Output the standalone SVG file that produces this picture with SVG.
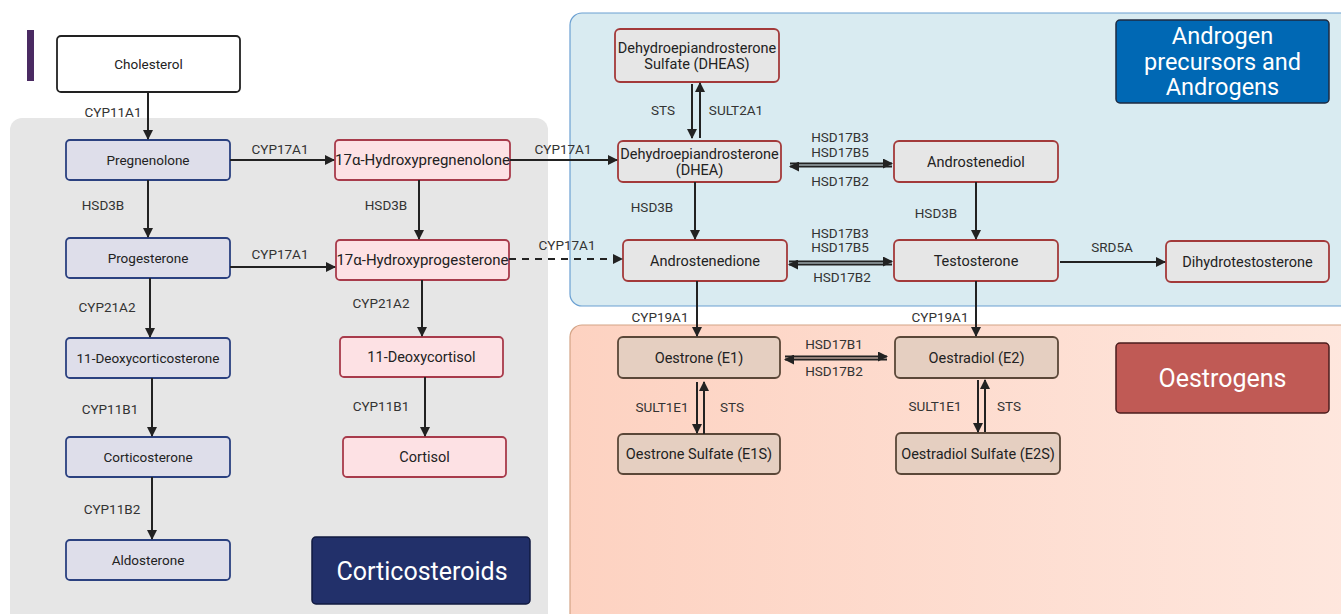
<svg xmlns="http://www.w3.org/2000/svg" width="1341" height="614" viewBox="0 0 1341 614">
<defs>
<marker id="ah" viewBox="0 0 10 10" refX="9" refY="5" markerWidth="10" markerHeight="10" markerUnits="userSpaceOnUse" orient="auto-start-reverse"><path d="M0,0 L10,5 L0,10 z" fill="#222"/></marker>
<linearGradient id="og" x1="0" y1="0" x2="1" y2="0"><stop offset="0" stop-color="#fdd2c1"/><stop offset="1" stop-color="#fee7de"/></linearGradient>
<style>
text{font-family:Roboto,"Liberation Sans",sans-serif;fill:#222}
.n{font-size:14.5px;text-anchor:middle;dominant-baseline:central}
.s{font-size:13.5px}
.b{font-size:15px}
.l{font-size:13.5px;text-anchor:middle;dominant-baseline:central;fill:#333}
.t{font-size:25px;text-anchor:middle;dominant-baseline:central;fill:#fff}
.t2{font-size:23.5px}
.blue rect{fill:#dedeea;stroke:#2b4180;stroke-width:1.8}
.red rect{fill:#fde1e4;stroke:#a83b4b;stroke-width:1.8}
.andr rect{fill:#e6e6e6;stroke:#a33a3a;stroke-width:1.8}
.oes rect{fill:#e5cfc1;stroke:#5a4738;stroke-width:1.8}
.c line{stroke:#222;stroke-width:2;marker-end:url(#ah)}
</style>
</defs>
<rect width="1341" height="614" fill="#fff"/>
<rect x="10" y="118" width="538" height="510" rx="12" fill="#e6e6e6"/>
<rect x="570" y="13" width="790" height="293" rx="12" fill="#d9ebf1" stroke="#6ba0d2" stroke-width="1.2"/>
<rect x="570" y="325" width="790" height="310" rx="12" fill="url(#og)" stroke="#d4a486" stroke-width="1.2"/>
<rect x="27" y="30" width="7" height="51" fill="#4a2a62"/>

<g id="cholesterol"><rect x="57" y="36" width="183" height="56" rx="4" fill="#fff" stroke="#222" stroke-width="1.8"/><text class="n s" x="148.5" y="64">Cholesterol</text></g>
<g id="pregnenolone" class="blue"><rect x="66" y="140" width="164" height="40" rx="4"/><text class="n s" x="148" y="160">Pregnenolone</text></g>
<g id="hydroxypregnenolone" class="red"><rect x="335" y="140" width="175" height="40" rx="4"/><text class="n b" x="422.5" y="160">17α-Hydroxypregnenolone</text></g>
<g id="progesterone" class="blue"><rect x="66" y="238" width="164" height="40" rx="4"/><text class="n s" x="148" y="258">Progesterone</text></g>
<g id="hydroxyprogesterone" class="red"><rect x="336" y="240" width="173" height="40" rx="4"/><text class="n b" x="422.5" y="260">17α-Hydroxyprogesterone</text></g>
<g id="deoxycorticosterone" class="blue"><rect x="66" y="338" width="164" height="40" rx="4"/><text class="n s" x="148" y="358">11-Deoxycorticosterone</text></g>
<g id="deoxycortisol" class="red"><rect x="340" y="337" width="163" height="40" rx="4"/><text class="n" x="421.5" y="357">11-Deoxycortisol</text></g>
<g id="corticosterone" class="blue"><rect x="66" y="437" width="164" height="40" rx="4"/><text class="n s" x="148" y="457">Corticosterone</text></g>
<g id="cortisol" class="red"><rect x="343" y="437" width="163" height="40" rx="4"/><text class="n" x="424.5" y="457">Cortisol</text></g>
<g id="aldosterone" class="blue"><rect x="66" y="540" width="164" height="40" rx="4"/><text class="n s" x="148" y="560">Aldosterone</text></g>
<g id="corticosteroids-label"><rect x="312" y="537" width="218" height="67" rx="4" fill="#22306a" stroke="#111a40" stroke-width="1.5"/><text class="t" x="422" y="571">Corticosteroids</text></g>

<g id="dheas" class="andr"><rect x="615" y="29" width="164" height="53" rx="5"/><text class="n" x="697" y="48">Dehydroepiandrosterone</text><text class="n" x="697" y="64">Sulfate (DHEAS)</text></g>
<g id="dhea" class="andr"><rect x="618" y="141" width="163" height="41" rx="5"/><text class="n" x="699.5" y="154">Dehydroepiandrosterone</text><text class="n" x="699.5" y="170">(DHEA)</text></g>
<g id="androstenediol" class="andr"><rect x="894" y="141" width="164" height="41" rx="5"/><text class="n" x="976" y="162">Androstenediol</text></g>
<g id="androstenedione" class="andr"><rect x="623" y="240" width="164" height="41" rx="5"/><text class="n" x="705" y="261">Androstenedione</text></g>
<g id="testosterone" class="andr"><rect x="894" y="240" width="164" height="41" rx="5"/><text class="n" x="976" y="261">Testosterone</text></g>
<g id="dihydrotestosterone" class="andr"><rect x="1166" y="241" width="163" height="41" rx="5"/><text class="n" x="1247.5" y="262">Dihydrotestosterone</text></g>
<g id="androgen-label"><rect x="1116" y="20" width="213" height="83" rx="4" fill="#0068b4" stroke="#1e2a40" stroke-width="1.5"/><text class="t t2" x="1222.5" y="36">Androgen</text><text class="t t2" x="1222.5" y="61.5">precursors and</text><text class="t t2" x="1222.5" y="87">Androgens</text></g>

<g id="oestrone" class="oes"><rect x="618" y="337" width="162" height="41" rx="5"/><text class="n" x="699" y="358">Oestrone (E1)</text></g>
<g id="oestradiol" class="oes"><rect x="895" y="337" width="163" height="41" rx="5"/><text class="n" x="976.5" y="358">Oestradiol (E2)</text></g>
<g id="oestrone-sulfate" class="oes"><rect x="618" y="434" width="162" height="40" rx="5"/><text class="n" x="699" y="454">Oestrone Sulfate (E1S)</text></g>
<g id="oestradiol-sulfate" class="oes"><rect x="896" y="433" width="164" height="41" rx="5"/><text class="n" x="978" y="454">Oestradiol Sulfate (E2S)</text></g>
<g id="oestrogens-label"><rect x="1116" y="343" width="213" height="70" rx="4" fill="#c05a55" stroke="#4a1c1c" stroke-width="1.5"/><text class="t" x="1222.5" y="378">Oestrogens</text></g>

<g id="connectors" class="c">
<line x1="148" y1="92" x2="148" y2="139"/>
<line x1="230" y1="160" x2="334" y2="160"/>
<line x1="510" y1="160" x2="617" y2="160"/>
<line x1="148" y1="180" x2="148" y2="237"/>
<line x1="419" y1="180" x2="419" y2="239"/>
<line x1="230" y1="267" x2="335" y2="267"/>
<line x1="509" y1="259" x2="622" y2="259" stroke-dasharray="7,6"/>
<line x1="150" y1="278" x2="150" y2="337"/>
<line x1="422" y1="280" x2="422" y2="336"/>
<line x1="152" y1="378" x2="152" y2="436"/>
<line x1="425" y1="377" x2="425" y2="436"/>
<line x1="152" y1="477" x2="152" y2="539"/>
<line x1="692" y1="84" x2="692" y2="138"/>
<line x1="700" y1="138" x2="700" y2="83"/>
<line x1="790" y1="163.5" x2="892" y2="163.5"/>
<line x1="892" y1="166.5" x2="790" y2="166.5"/>
<line x1="695" y1="182" x2="695" y2="239"/>
<line x1="976" y1="182" x2="976" y2="239"/>
<line x1="789" y1="261.5" x2="892" y2="261.5"/>
<line x1="892" y1="264.5" x2="789" y2="264.5"/>
<line x1="1060" y1="262" x2="1165" y2="262"/>
<line x1="697" y1="281" x2="697" y2="336"/>
<line x1="976" y1="281" x2="976" y2="336"/>
<line x1="785" y1="356.5" x2="887" y2="356.5"/>
<line x1="887" y1="359.5" x2="785" y2="359.5"/>
<line x1="697" y1="382" x2="697" y2="433"/>
<line x1="704" y1="434" x2="704" y2="382"/>
<line x1="978" y1="380" x2="978" y2="432"/>
<line x1="985" y1="432" x2="985" y2="380"/>
</g>

<g id="labels">
<text class="l" x="113" y="112">CYP11A1</text>
<text class="l" x="280" y="149">CYP17A1</text>
<text class="l" x="563" y="149">CYP17A1</text>
<text class="l" x="103" y="205">HSD3B</text>
<text class="l" x="386" y="205">HSD3B</text>
<text class="l" x="280" y="254">CYP17A1</text>
<text class="l" x="567" y="245">CYP17A1</text>
<text class="l" x="107" y="307">CYP21A2</text>
<text class="l" x="381" y="303">CYP21A2</text>
<text class="l" x="110" y="409">CYP11B1</text>
<text class="l" x="381" y="406">CYP11B1</text>
<text class="l" x="112" y="509">CYP11B2</text>
<text class="l" x="663" y="110">STS</text>
<text class="l" x="736" y="110">SULT2A1</text>
<text class="l" x="840" y="137">HSD17B3</text>
<text class="l" x="840" y="152">HSD17B5</text>
<text class="l" x="840" y="181">HSD17B2</text>
<text class="l" x="652" y="207">HSD3B</text>
<text class="l" x="936" y="213">HSD3B</text>
<text class="l" x="840" y="233">HSD17B3</text>
<text class="l" x="840" y="247">HSD17B5</text>
<text class="l" x="842" y="277">HSD17B2</text>
<text class="l" x="1112" y="247">SRD5A</text>
<text class="l" x="660" y="317">CYP19A1</text>
<text class="l" x="940" y="317">CYP19A1</text>
<text class="l" x="834" y="344">HSD17B1</text>
<text class="l" x="834" y="371">HSD17B2</text>
<text class="l" x="662" y="407">SULT1E1</text>
<text class="l" x="732" y="407">STS</text>
<text class="l" x="935" y="406">SULT1E1</text>
<text class="l" x="1009" y="406">STS</text>
</g>
</svg>
